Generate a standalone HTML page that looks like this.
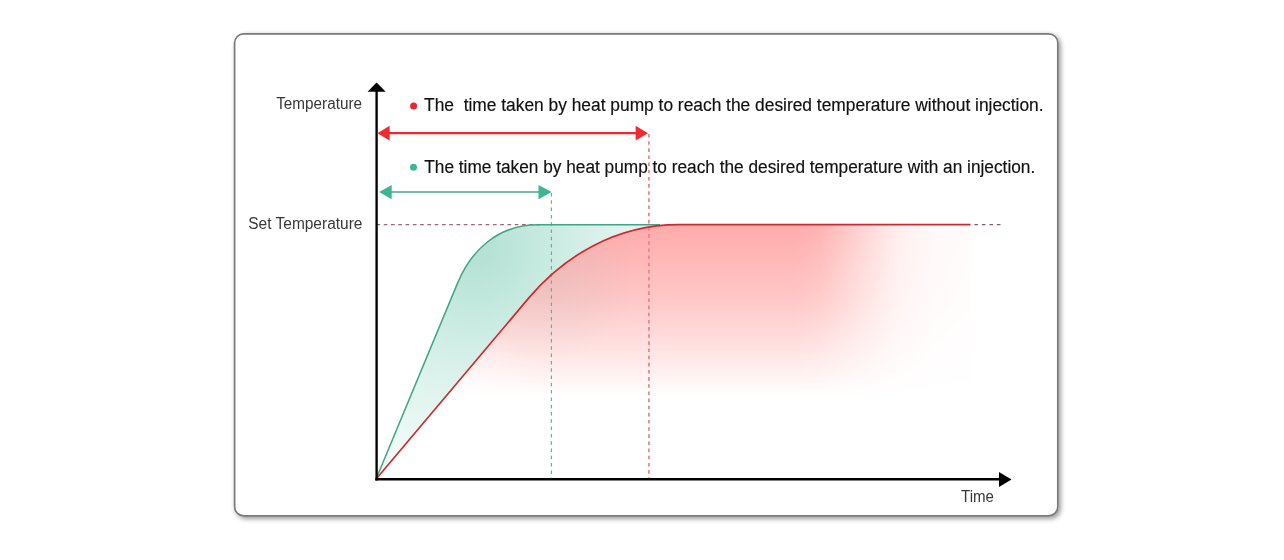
<!DOCTYPE html>
<html><head><meta charset="utf-8">
<style>
html,body{margin:0;padding:0;background:#fff;width:1284px;height:560px;overflow:hidden}
svg{display:block}
text{font-family:"Liberation Sans",Arial,sans-serif}
</style></head>
<body>
<svg width="1284" height="560" viewBox="0 0 1284 560">
<defs>
  <filter id="sh" x="-5%" y="-5%" width="110%" height="110%">
    <feGaussianBlur in="SourceAlpha" stdDeviation="2.6"/>
    <feOffset dx="1.8" dy="1.8" result="o"/>
    <feComponentTransfer><feFuncA type="linear" slope="0.42"/></feComponentTransfer>
    <feMerge><feMergeNode/><feMergeNode in="SourceGraphic"/></feMerge>
  </filter>
  <radialGradient id="gGreen" cx="474" cy="246" r="215" gradientUnits="userSpaceOnUse">
    <stop offset="0" stop-color="#b0e0d1"/>
    <stop offset="0.3" stop-color="#c5e9de"/>
    <stop offset="0.5" stop-color="#d4efe7"/>
    <stop offset="0.7" stop-color="#e0f4ee"/>
    <stop offset="0.9" stop-color="#eaf8f4"/>
    <stop offset="1" stop-color="#f0faf7"/>
  </radialGradient>
  <linearGradient id="gRedV" x1="0" y1="225" x2="0" y2="395" gradientUnits="userSpaceOnUse">
    <stop offset="0" stop-color="#ffaaaa"/>
    <stop offset="0.45" stop-color="#ffc8c8"/>
    <stop offset="0.72" stop-color="#ffe2e2"/>
    <stop offset="0.9" stop-color="#fff4f4"/>
    <stop offset="1" stop-color="#ffffff"/>
  </linearGradient>
  <radialGradient id="gTint" cx="545" cy="270" r="95" gradientUnits="userSpaceOnUse">
    <stop offset="0" stop-color="#8fb8a8" stop-opacity="0.17"/>
    <stop offset="1" stop-color="#8fb8a8" stop-opacity="0"/>
  </radialGradient>
  <linearGradient id="gFadeR" x1="795" y1="0" x2="968" y2="0" gradientUnits="userSpaceOnUse">
    <stop offset="0" stop-color="#fff" stop-opacity="1"/>
    <stop offset="0.15" stop-color="#fff" stop-opacity="0.9"/>
    <stop offset="0.4" stop-color="#fff" stop-opacity="0.5"/>
    <stop offset="0.6" stop-color="#fff" stop-opacity="0.2"/>
    <stop offset="0.8" stop-color="#fff" stop-opacity="0.08"/>
    <stop offset="1" stop-color="#fff" stop-opacity="0.05"/>
  </linearGradient>
  <mask id="mFade"><rect x="0" y="0" width="1284" height="560" fill="url(#gFadeR)"/></mask>
  <radialGradient id="gWhite" cx="435" cy="430" r="120" gradientUnits="userSpaceOnUse">
    <stop offset="0" stop-color="#fff" stop-opacity="0.8"/>
    <stop offset="0.5" stop-color="#fff" stop-opacity="0.4"/>
    <stop offset="1" stop-color="#fff" stop-opacity="0"/>
  </radialGradient>
  <clipPath id="cRed"><path d="M377 478 L528.44 298.35 C562.91 257.47 614.45 224.6 678.95 224.6 L970.5 224.6 L970.5 400 L377 400 Z"/></clipPath>
</defs>

<!-- card -->
<rect x="234.6" y="33.8" width="823.2" height="482.1" rx="9.2" ry="9.2" fill="#fff" stroke="#7a7a7a" stroke-width="1.7" filter="url(#sh)"/>

<!-- red fill -->
<g mask="url(#mFade)">
<path d="M377 478 L528.44 298.35 C562.91 257.47 614.45 224.6 678.95 224.6 L970.5 224.6 L970.5 400 L377 400 Z" fill="url(#gRedV)"/>
</g>
<rect x="377" y="224" width="300" height="180" fill="url(#gTint)" clip-path="url(#cRed)"/>
<rect x="377" y="224" width="300" height="180" fill="url(#gWhite)" clip-path="url(#cRed)"/>
<!-- green fill -->
<path d="M376.5 478 L457.77 282.65 C470.81 251.29 496.96 224.8 538.09 224.8 L678.95 224.6 C614.45 224.6 562.91 257.47 528.44 298.35 L377 478 Z" fill="url(#gGreen)"/>

<!-- set temperature dashed -->
<line x1="376.42" y1="224.7" x2="540" y2="224.7" stroke="#a86274" stroke-width="1.25" stroke-dasharray="3.7 3.58"/>
<line x1="974.4" y1="224.7" x2="1001" y2="224.7" stroke="#8a5a6a" stroke-width="1.25" stroke-dasharray="3.6 3.9"/>

<!-- vertical dashed -->
<line x1="551.4" y1="193" x2="551.4" y2="478" stroke="#68b09a" stroke-width="1.2" stroke-dasharray="3.5 3.8"/>
<line x1="648.9" y1="134" x2="648.9" y2="478" stroke="#e8828f" stroke-width="1.7" stroke-dasharray="3.6 3.55"/>

<!-- curves -->
<path d="M376.5 478 L457.77 282.65 C470.81 251.29 496.96 224.8 538.09 224.8 L660 224.8" fill="none" stroke="#3fa585" stroke-width="1.5"/>
<path d="M377 478 L528.44 298.35 C562.91 257.47 614.45 224.6 678.95 224.6 L970.5 224.6" fill="none" stroke="#cc2a2e" stroke-width="1.7"/>

<!-- axes -->
<line x1="376.6" y1="90" x2="376.6" y2="480.5" stroke="#000" stroke-width="2.35"/>
<polygon points="367.5,91.8 385.7,91.8 376.6,82.5" fill="#000"/>
<line x1="375.35" y1="479.3" x2="1000" y2="479.3" stroke="#000" stroke-width="2.4"/>
<polygon points="999,472 999,487 1011.6,479.5" fill="#000"/>

<!-- red arrow -->
<line x1="386" y1="133.2" x2="638" y2="133.2" stroke="#ea2a2f" stroke-width="2.2"/>
<polygon points="377.4,133.2 389.6,125.8 389.6,140.6" fill="#f02a2e"/>
<polygon points="648,133.2 635.6,125.8 635.6,140.6" fill="#f02a2e"/>

<!-- green arrow -->
<line x1="389" y1="192" x2="541" y2="192" stroke="#46a588" stroke-width="1.7"/>
<polygon points="379.2,192 391.7,185.1 391.7,199.2" fill="#3bb592"/>
<polygon points="551.6,192 538.5,185.1 538.5,199.2" fill="#3bb592"/>

<!-- bullets -->
<circle cx="413.6" cy="106" r="3.5" fill="#e8272c"/>
<circle cx="413.5" cy="167.2" r="3.5" fill="#3bb794"/>

<!-- labels -->
<text x="276.2" y="108.7" font-size="16" fill="#383838" textLength="85.9" lengthAdjust="spacingAndGlyphs">Temperature</text>
<text x="248.3" y="228.7" font-size="16" fill="#383838" textLength="114.1" lengthAdjust="spacingAndGlyphs">Set Temperature</text>
<text x="961" y="502" font-size="16" fill="#383838" textLength="33" lengthAdjust="spacingAndGlyphs">Time</text>
<text x="424.1" y="110.8" font-size="18" fill="#111" stroke="#111" stroke-width="0.18" textLength="619.5" lengthAdjust="spacingAndGlyphs" xml:space="preserve">The  time taken by heat pump to reach the desired temperature without injection.</text>
<text x="424.3" y="172.7" font-size="18" fill="#111" stroke="#111" stroke-width="0.18" textLength="610.9" lengthAdjust="spacingAndGlyphs">The time taken by heat pump to reach the desired temperature with an injection.</text>
</svg>
</body></html>
